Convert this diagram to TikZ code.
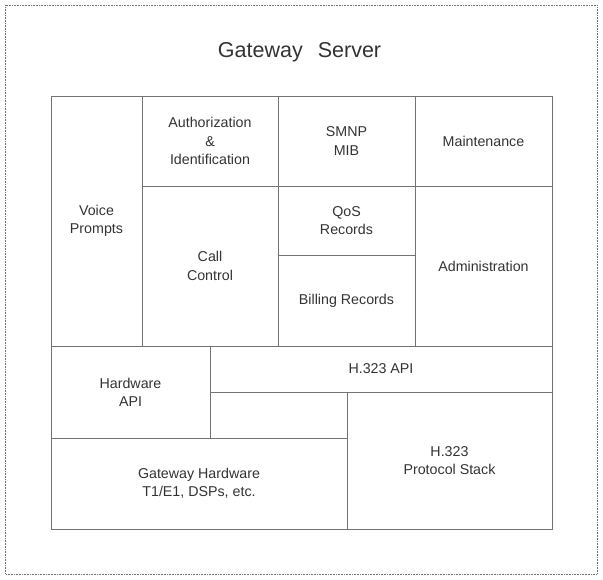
\documentclass[tikz,border=0pt]{standalone}
\usepackage{fontspec}
\setmainfont{Liberation Sans}
\begin{document}
\begin{tikzpicture}[x=1bp, y=-1bp,
    cell/.style={draw=black!55, line width=0.6pt, inner sep=0pt, outer sep=0pt,
      align=center, text=black!80, font=\fontsize{14.3}{18.3}\selectfont},
    frame/.style={draw=black!55, line width=0.6pt, densely dotted}]
  \useasboundingbox (0,0) rectangle (603,580);
  \draw[frame] (5.5,5.5) rectangle (597,574);
  \node[text=black!80, inner sep=0pt, font=\fontsize{21.6}{26}\selectfont] (title) at (299.5,52.5) {Gateway\hspace{15bp}Server};

  % upper block
  \node[cell, minimum width=91bp, minimum height=250bp] (voice) at (96.5,221) {Voice\\Prompts};
  \node[cell, minimum width=136bp, minimum height=90bp] (auth) at (210,141) {Authorization\\\&\\Identification};
  \node[cell, minimum width=136bp, minimum height=160bp] (call) at (210,266) {Call\\Control};
  \node[cell, minimum width=137bp, minimum height=90bp] (mib) at (346.5,141) {SMNP\\MIB};
  \node[cell, minimum width=137bp, minimum height=69bp] (qos) at (346.5,220.5) {QoS\\Records};
  \node[cell, minimum width=137bp, minimum height=91bp] (billing) at (346.5,300.5) {Billing Records};
  \node[cell, minimum width=137bp, minimum height=90bp] (maint) at (483.5,141) {Maintenance};
  \node[cell, minimum width=137bp, minimum height=160bp] (admin) at (483.5,266) {Administration};

  % lower block
  \node[cell, minimum width=159bp, minimum height=92bp] (hwapi) at (130.5,392) {Hardware\\API};
  \node[cell, minimum width=342bp, minimum height=46bp] (h323api) at (381,369) {H.323 API};
  \node[cell, minimum width=137bp, minimum height=46bp] (gap) at (278.5,415) {};
  \node[cell, minimum width=296bp, minimum height=91bp] (gwhw) at (199,483.5) {Gateway Hardware\\T1/E1, DSPs, etc.};
  \node[cell, minimum width=205bp, minimum height=137bp] (stack) at (449.5,460.5) {H.323\\Protocol Stack};
\end{tikzpicture}
\end{document}
